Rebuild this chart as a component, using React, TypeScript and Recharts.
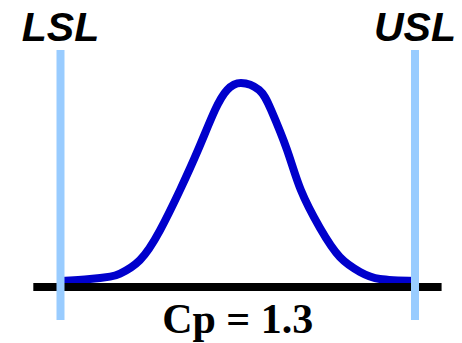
import React from 'react';
import { ComposedChart, Line, XAxis, YAxis, ReferenceLine, ReferenceDot } from 'recharts';

// Measurement scale: LSL = 0, USL = 100; curve height relative to its peak (1.0)
const curveX = [0, 8.3, 14, 16.8, 22.4, 28.1, 33.7, 38.8, 43.6, 47, 50.9, 56, 59.4, 63.9, 67.8, 73.2, 78.8, 84.5, 90.1, 100];
const curveY = [0.029, 0.039, 0.051, 0.066, 0.132, 0.279, 0.475, 0.672, 0.868, 0.966, 1.0, 0.966, 0.868, 0.672, 0.475, 0.289, 0.147, 0.074, 0.039, 0.029];

const specNames = ['LSL', 'USL'];
const specValues = [0, 100];
const specLow = -0.162;
const specHigh = 1.162;
const baselineRange = [-7.67, 107.5];
const cpLabel = 'Cp = 1.3';
const cpLabelX = 50;
const cpLabelY = -0.151;
const specLabelY = 1.275;

const data = curveX.map((x, i) => ({ x, y: curveY[i] }));

export default function App() {
  return (
    <div style={{ position: 'absolute', left: 0, top: 0 }}>
      <ComposedChart width={462} height={343} data={data} margin={{ top: 0, right: 0, bottom: 0, left: 0 }}>
        <XAxis type="number" dataKey="x" domain={[-17.066, 113.258]} hide allowDataOverflow />
        <YAxis type="number" domain={[-0.2745, 1.4069]} hide allowDataOverflow />
        <Line
          type="natural"
          dataKey="y"
          stroke="#0000CC"
          strokeWidth={8}
          dot={false}
          activeDot={false}
          isAnimationActive={false}
        />
        <ReferenceLine
          segment={[{ x: baselineRange[0], y: 0 }, { x: baselineRange[1], y: 0 }]}
          stroke="#000000"
          strokeWidth={8}
        />
        {specValues.map((v, i) => (
          <ReferenceLine
            key={specNames[i]}
            segment={[{ x: v, y: specLow }, { x: v, y: specHigh }]}
            stroke="#99CCFF"
            strokeWidth={8}
          />
        ))}
        {specValues.map((v, i) => (
          <ReferenceDot
            key={'lbl' + specNames[i]}
            x={v}
            y={specLabelY}
            r={0}
            fill="none"
            stroke="none"
            label={{
              value: specNames[i],
              position: 'center',
              fill: '#000000',
              fontSize: 41,
              fontWeight: 'bold',
              fontStyle: 'italic',
              fontFamily: '"Liberation Sans", Arial, sans-serif',
            }}
          />
        ))}
        <ReferenceDot
          x={cpLabelX}
          y={cpLabelY}
          r={0}
          fill="none"
          stroke="none"
          label={{
            value: cpLabel,
            position: 'center',
            fill: '#000000',
            fontSize: 42,
            fontWeight: 'bold',
            fontFamily: '"Liberation Serif", "Times New Roman", serif',
          }}
        />
      </ComposedChart>
    </div>
  );
}
